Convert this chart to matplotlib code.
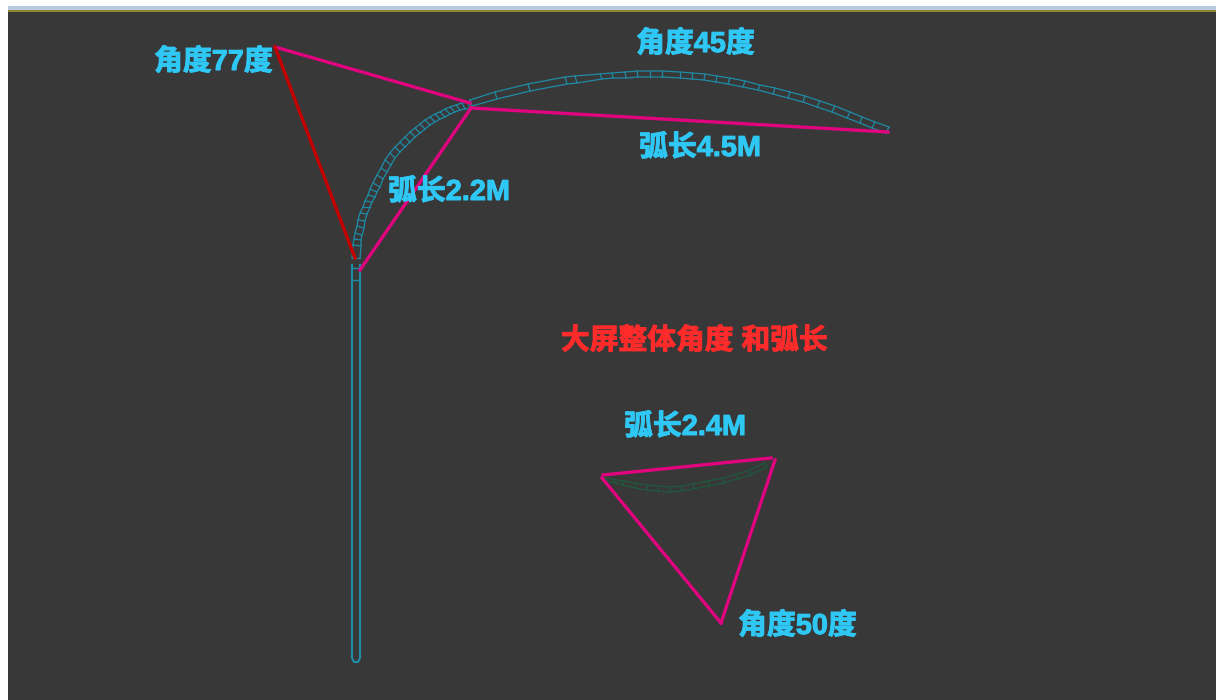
import matplotlib
matplotlib.use('Agg')
import matplotlib.pyplot as plt
import matplotlib.patheffects as pe
from matplotlib.patches import Rectangle

plt.rcParams['font.family'] = ['Liberation Sans', 'Noto Sans CJK SC', 'DejaVu Sans']

BG = '#383838'
TEAL = '#1f8ba6'
GREEN = '#20583f'
PINK = '#e0047f'
CYAN = '#2fc8f5'

labels = ['角度77度', '角度45度', '弧长4.5M', '弧长2.2M', '弧长2.4M', '角度50度']
label_x = [154, 636, 639, 388, 624, 738]
label_y = [62, 44, 148, 192, 427, 626]
title = '大屏整体角度 和弧长'

# magenta construction lines
pink_lines = [
    [(275, 47), (470, 103)],
    [(471, 108), (360, 270)],
    [(471, 108), (888, 132)],
    [(603, 475), (771, 458)],
    [(602, 478), (721, 623)],
    [(775, 460), (721, 623)],
]
red_line = [(275, 47), (355, 258)]

# long arc, two edges
left_outer = [(352, 258), (353, 245), (354, 239), (355, 233), (357, 226), (358, 220), (360, 213), (363, 207),
              (365, 201), (368, 195), (370, 189), (373, 183), (377, 175), (381, 168), (385, 160), (390, 153),
              (395, 147), (400, 142), (405, 137), (410, 132), (415, 128), (420, 124), (425, 120), (430, 117),
              (435, 114), (440, 112), (445, 109), (450, 107), (456, 105), (462, 103), (468, 102)]
left_inner = [(360, 258), (361, 246), (361, 240), (362, 235), (364, 228), (365, 221), (367, 214), (370, 207),
              (372, 202), (375, 197), (377, 192), (380, 187), (383, 179), (387, 172), (391, 165), (395, 158),
              (400, 152), (405, 147), (410, 142), (415, 137), (420, 133), (425, 129), (430, 125), (435, 122),
              (440, 119), (445, 117), (450, 114), (455, 112), (460, 110), (465, 109), (470, 108)]
right_outer = [(470, 100), (495, 92), (528, 84), (565, 77), (575, 76), (600, 74), (612, 73), (625, 72), (637, 71),
               (650, 71), (662, 71), (680, 72), (692, 73), (705, 74), (717, 76), (730, 78), (745, 81), (760, 85),
               (775, 88), (790, 92), (805, 96), (820, 101), (835, 106), (850, 112), (862, 117), (875, 122), (889, 127)]
right_inner = [(472, 106), (497, 99), (530, 91), (567, 84), (577, 83), (602, 79), (613, 78), (626, 78), (638, 77),
               (650, 77), (662, 77), (680, 78), (692, 79), (704, 80), (716, 82), (728, 84), (743, 87), (758, 90),
               (773, 94), (788, 98), (803, 102), (817, 107), (832, 112), (847, 118), (860, 123), (872, 128), (886, 133)]

# small arc at the bottom
low_outer = [(603, 477), (612, 479), (623, 481), (635, 483), (647, 485), (658, 486), (670, 487), (681, 486),
             (693, 484), (708, 481), (723, 478), (737, 474), (750, 470), (765, 463)]
low_inner = [(610, 482), (616, 483), (623, 485), (635, 488), (647, 490), (658, 491), (670, 492), (681, 491),
             (693, 489), (708, 486), (723, 483), (737, 479), (750, 475), (767, 467)]

# pole
pole = [(352, 265), (352, 658), (354, 662), (358, 662), (360, 658), (360, 265)]
pole_rungs = [268, 280]


def xy(points):
    return [p[0] for p in points], [p[1] for p in points]


def draw_band(ax, outer, inner, color, lw):
    ax.plot(*xy(outer), color=color, lw=lw)
    ax.plot(*xy(inner), color=color, lw=lw)
    for a, b in zip(outer, inner):
        ax.plot(*xy([a, b]), color=color, lw=lw)


fig = plt.figure(figsize=(12.18, 7), dpi=100, facecolor='white')
ax = fig.add_axes([0, 0, 1, 1])
ax.set_xlim(0, 1218)
ax.set_ylim(700, 0)
ax.axis('off')

# screenshot frame
ax.add_patch(Rectangle((8, 6), 1208, 694, color=BG, lw=0))
ax.add_patch(Rectangle((8, 6), 1208, 4, color='#b9cbe0', lw=0))
ax.add_patch(Rectangle((8, 10), 1208, 2, color='#8a8a2c', lw=0))

draw_band(ax, left_outer, left_inner, TEAL, 0.9)
draw_band(ax, right_outer, right_inner, TEAL, 0.9)
draw_band(ax, low_outer, low_inner, GREEN, 0.9)

ax.plot(*xy(pole), color=TEAL, lw=1.5)
for y in pole_rungs:
    ax.plot([pole[0][0], pole[-1][0]], [y, y], color=TEAL, lw=1)

for line in pink_lines:
    ax.plot(*xy(line), color=PINK, lw=2.4)
ax.plot(*xy(red_line), color='#c40000', lw=2.4)

bold = [pe.withStroke(linewidth=0.7, foreground=CYAN)]
for s, x, y in zip(labels, label_x, label_y):
    ax.text(x, y, s, color=CYAN, fontsize=20.8, fontweight='bold', va='center', ha='left', path_effects=bold)
ax.text(561, 341, title, color='#ff2b2b', fontsize=20.7, fontweight='bold', va='center', ha='left',
        path_effects=[pe.withStroke(linewidth=0.7, foreground='#ff2b2b')])

fig.savefig('out.png', dpi=100, facecolor='white')
